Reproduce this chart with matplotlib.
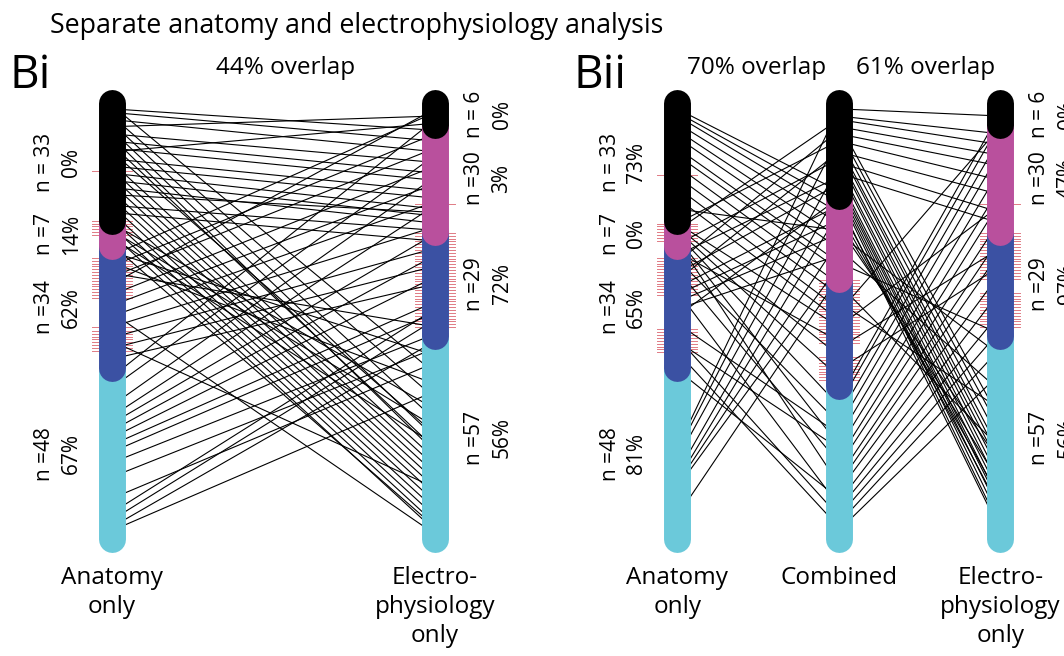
import numpy as np
import matplotlib
matplotlib.use("Agg")
import matplotlib.pyplot as plt

plt.rcParams['font.family'] = ['Open Sans', 'DejaVu Sans']

# segment colours, top to bottom
seg_colors = ['#000000', '#b9509d', '#3b51a3', '#6bc9da']

# cell counts per segment (top to bottom) for each column
anat_n = [33, 7, 34, 48]
ephys_n = [6, 30, 29, 57]
comb_n = [26, 23, 30, 43]

# labels beside the bars
bi_anat_n = ['n = 33', 'n =7', 'n =34', 'n =48']
bi_anat_pct = ['0%', '14%', '62%', '67%']
bi_ephys_n = ['n = 6', 'n =30', 'n =29', 'n =57']
bi_ephys_pct = ['0%', '3%', '72%', '56%']
bii_anat_pct = ['73%', '0%', '65%', '81%']
bii_ephys_pct = ['0%', '47%', '97%', '56%']

overlap_bi = '44% overlap'
overlap_bii = ['70% overlap', '61% overlap']

# red tick positions (cell rank along the bar)
bi_anat_ticks = [19, 32.8, 33.6, 34.4, 35.2, 36.0, 36.8,
                 43.2, 44.0, 44.8, 45.6, 46.4, 47.2, 48.0, 48.8, 49.6, 50.4, 51.2, 52.0, 52.8, 53.6, 54.4,
                 62.5, 63.6, 64.4, 65.2, 66.0, 66.8, 67.6, 68.4, 69.2]
bi_ephys_ticks = [28, 36.2, 37.0, 37.8, 38.6, 39.4, 40.2, 41.0, 41.8, 42.6, 43.4, 44.2, 45.0, 45.8,
                  46.6, 47.4, 48.2, 49.0, 49.8, 50.6, 51.4, 52.2, 53.0, 53.8, 54.6, 55.4, 56.2,
                  57.0, 57.8, 58.6, 59.4, 60.2, 61.0, 61.8, 62.6]
bii_anat_ticks = [20, 33.6, 34.4, 35.2, 36.0, 36.8, 37.6, 38.4,
                  43.2, 44.0, 44.8, 45.6, 46.4, 47.2, 48.0, 48.8, 49.6, 50.4, 51.2, 52.0, 52.8, 53.6,
                  63.2, 64.0, 64.8, 65.6, 66.4, 67.2, 68.0, 68.8, 69.6]
bii_comb_ticks = [49.4, 50.2, 51.0, 51.8, 52.6, 53.4, 54.2, 55.0, 55.8, 56.6, 57.4, 58.2, 59.0,
                  59.8, 60.6, 61.4, 62.2, 63.0, 63.8, 64.6, 65.4, 66.2, 67.0,
                  71.0, 71.8, 72.6, 73.4, 74.2, 75.0, 75.8, 76.6, 77.4]
bii_ephys_ticks = [28, 36.2, 37.0, 37.8, 38.6, 39.4, 40.2, 41.0, 41.8, 42.6, 43.4, 44.2, 45.0,
                   45.8, 46.6, 47.4, 48.2, 49.0,
                   53.0, 53.8, 54.6, 55.4, 56.2, 57.0, 57.8, 58.6, 59.4, 60.2, 61.0, 61.8, 62.6]

# cell links (rank in left column, rank in right column)
bi_links = [
    (1, 7), (2, 10), (4, 13), (6, 3), (8, 16), (10, 19), (12, 21), (13, 5), (15, 24),
    (17, 26), (19, 29), (21, 31), (23, 33), (25, 30), (28, 35), (30, 38),
    (0, 75), (3, 82), (5, 88), (7, 93), (9, 97), (11, 96), (13, 92),
    (16, 99), (18, 101), (20, 103), (22, 105), (24, 107), (26, 109), (28, 111),
    (30, 113), (32, 115), (34, 117), (36, 119), (33, 85), (35, 90), (37, 95), (39, 118),
    (41, 70), (44, 78), (47, 62), (66, 107), (58, 120),
    (42, 2), (45, 8), (48, 12), (50, 1), (53, 17), (56, 22), (59, 27), (62, 34),
    (65, 40), (68, 45), (71, 50), (76, 4), (79, 14), (84, 20), (87, 28), (89, 36),
    (91, 42), (93, 48), (95, 55), (97, 58), (100, 64), (104, 68), (110, 72),
    (114, 57), (116, 60), (118, 66), (119, 80),
]
bii_left_links = [
    (1, 24), (2, 27), (3, 30), (5, 33), (7, 37), (9, 40), (12, 44), (14, 46), (17, 50),
    (20, 53), (23, 57), (26, 60), (29, 35),
    (33, 62), (34, 70), (35, 76), (36, 84), (37, 95), (38, 106), (41, 66), (43, 89),
    (46, 100), (52, 112), (61, 92), (65, 115), (69, 118), (74, 110), (66, 96),
    (33, 10), (35, 4), (39, 15), (42, 20), (44, 7), (47, 22), (49, 13), (51, 28),
    (53, 32), (55, 36), (57, 42), (59, 26),
    (96, 1), (97, 9), (99, 17), (103, 24), (105, 30), (106, 38), (107, 45), (115, 48),
]
bii_right_links = [
    (1, 3), (3, 8), (4, 11), (6, 14), (8, 17), (10, 21), (13, 25), (16, 30), (19, 33),
    (5, 88), (7, 91), (9, 94), (11, 97), (12, 99), (14, 101), (15, 103), (17, 105),
    (18, 107), (20, 109), (21, 111), (22, 112), (23, 114), (24, 116), (25, 118),
    (27, 119), (28, 113), (30, 110), (32, 106), (34, 100),
    (36, 70), (40, 80), (44, 64), (50, 96), (55, 85),
    (82, 2), (84, 5), (87, 9), (90, 13), (93, 18), (96, 23), (99, 27), (101, 32),
    (104, 37), (106, 41), (108, 47), (111, 52), (113, 58), (115, 63), (117, 68), (119, 75),
    (58, 6), (62, 28), (68, 40), (74, 45),
]

# column x positions
x_bi_anat, x_bi_ephys = 0, 2
x_bii_anat, x_bii_comb, x_bii_ephys = 3.5, 4.5, 5.5

fig = plt.figure(figsize=(10.64, 6.56), dpi=100)
ax = fig.add_axes([0, 0, 1, 1])
ax.set_xlim(-0.6935, 5.895)
ax.set_ylim(154.6, -28.96)
ax.axis('off')

BAR_LW = 19.4
tick_half = 0.125


def draw_bar(x, counts, ticks):
    edges = np.concatenate([[0], np.cumsum(counts)])
    for t in ticks:
        ax.plot([x - tick_half, x + tick_half], [t, t], color='#e07a84', lw=0.7, zorder=1)
    # draw bottom segment first so upper round caps sit on top
    for i in range(len(counts) - 1, -1, -1):
        ax.plot([x, x], [edges[i], edges[i + 1]], color=seg_colors[i], lw=BAR_LW,
                solid_capstyle='round', zorder=3)
    return edges


def draw_links(x0, x1, links):
    for a, b in links:
        ax.plot([x0, x1], [a + 0.5, b + 0.5], color='black', lw=0.8, zorder=2)


def side_labels(x, edges, nlab, plab, side):
    centers = (edges[:-1] + edges[1:]) / 2
    if side == 'left':
        xn, xp = x - 0.415, x - 0.25
    else:
        xn, xp = x + 0.245, x + 0.415
    for c, nl, pl in zip(centers, nlab, plab):
        ax.text(xn, c, nl, rotation=90, ha='center', va='center', fontsize=15)
        ax.text(xp, c, pl, rotation=90, ha='center', va='center', fontsize=15)


draw_links(x_bi_anat, x_bi_ephys, bi_links)
draw_links(x_bii_anat, x_bii_comb, bii_left_links)
draw_links(x_bii_comb, x_bii_ephys, bii_right_links)

e = draw_bar(x_bi_anat, anat_n, bi_anat_ticks)
side_labels(x_bi_anat, e, bi_anat_n, bi_anat_pct, 'left')
e = draw_bar(x_bi_ephys, ephys_n, bi_ephys_ticks)
side_labels(x_bi_ephys, e, bi_ephys_n, bi_ephys_pct, 'right')
e = draw_bar(x_bii_anat, anat_n, bii_anat_ticks)
side_labels(x_bii_anat, e, bi_anat_n, bii_anat_pct, 'left')
draw_bar(x_bii_comb, comb_n, bii_comb_ticks)
e = draw_bar(x_bii_ephys, ephys_n, bii_ephys_ticks)
side_labels(x_bii_ephys, e, bi_ephys_n, bii_ephys_pct, 'right')

# column names underneath
y_name = 129.3
for x, name in [(x_bi_anat, 'Anatomy\nonly'), (x_bi_ephys, 'Electro-\nphysiology\nonly'),
                (x_bii_anat, 'Anatomy\nonly'), (x_bii_comb, 'Combined'),
                (x_bii_ephys, 'Electro-\nphysiology\nonly')]:
    ax.text(x, y_name, name, ha='center', va='top', fontsize=17.5, linespacing=1.3)

# overlap labels
ax.text(1.077, -10, overlap_bi, ha='center', va='center', fontsize=17.5)
ax.text(x_bii_anat + 0.49, -10, overlap_bii[0], ha='center', va='center', fontsize=17.5)
ax.text(x_bii_comb + 0.54, -10, overlap_bii[1], ha='center', va='center', fontsize=17.5)

fig.text(0.047, 0.96, 'Separate anatomy and electrophysiology analysis', ha='left',
         va='center', fontsize=19.3)
fig.text(0.009, 0.866, 'Bi', ha='left', va='baseline', fontsize=33)
fig.text(0.539, 0.866, 'Bii', ha='left', va='baseline', fontsize=33)

fig.savefig('out.png', dpi=100)
